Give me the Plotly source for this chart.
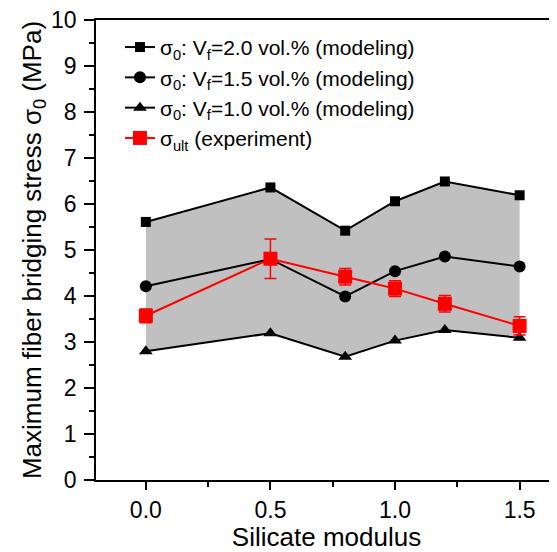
import plotly.graph_objects as go

x_vals = [0.0, 0.5, 0.8, 1.0, 1.2, 1.5]
vf20 = [5.61, 6.36, 5.42, 6.06, 6.49, 6.19]
vf15 = [4.21, 4.80, 3.99, 4.54, 4.86, 4.64]
vf10 = [2.80, 3.19, 2.68, 3.03, 3.26, 3.09]
exp_vals = [3.57, 4.81, 4.42, 4.16, 3.83, 3.35]
exp_err = [0.15, 0.43, 0.18, 0.17, 0.18, 0.20]

names = [
    "σ<sub>0</sub>: V<sub>f</sub>=2.0 vol.% (modeling)",
    "σ<sub>0</sub>: V<sub>f</sub>=1.5 vol.% (modeling)",
    "σ<sub>0</sub>: V<sub>f</sub>=1.0 vol.% (modeling)",
    "σ<sub>ult</sub> (experiment)",
]

fig = go.Figure()
# gray band between Vf=1.0 and Vf=2.0
fig.add_trace(go.Scatter(x=x_vals, y=vf10, mode="lines", line=dict(width=0, color="rgba(0,0,0,0)"),
                         showlegend=False, hoverinfo="skip"))
fig.add_trace(go.Scatter(x=x_vals, y=vf20, mode="lines", line=dict(width=0, color="rgba(0,0,0,0)"),
                         fill="tonexty", fillcolor="#C0C0C0", showlegend=False, hoverinfo="skip"))

fig.add_trace(go.Scatter(x=x_vals, y=vf20, mode="lines+markers", name=names[0],
                         line=dict(color="black", width=2),
                         marker=dict(symbol="square", size=10, color="black")))
fig.add_trace(go.Scatter(x=x_vals, y=vf15, mode="lines+markers", name=names[1],
                         line=dict(color="black", width=2),
                         marker=dict(symbol="circle", size=12, color="black")))
fig.add_trace(go.Scatter(x=x_vals, y=vf10, mode="lines+markers", name=names[2],
                         line=dict(color="black", width=2),
                         marker=dict(symbol="triangle-up", size=12, color="black")))
fig.add_trace(go.Scatter(x=x_vals, y=exp_vals, mode="lines+markers", name=names[3],
                         line=dict(color="red", width=2),
                         marker=dict(symbol="square", size=14, color="red"),
                         error_y=dict(type="data", array=exp_err, color="red", thickness=1.5, width=6)))

# page body has an 8px default margin: figure is 549x544 placed at (8,8)
fig.update_layout(
    width=549, height=544,
    margin=dict(l=88, r=0, t=12, b=72),
    paper_bgcolor="white", plot_bgcolor="white",
    font=dict(family="Liberation Sans, Arial, sans-serif", color="black"),
    legend=dict(x=0.052, y=0.985, xanchor="left", yanchor="top", traceorder="normal",
                font=dict(size=21), bgcolor="rgba(0,0,0,0)"),
    xaxis=dict(range=[-0.2, 1.65], tickvals=[0, 0.5, 1.0, 1.5],
               ticktext=["0.0", "0.5", "1.0", "1.5"],
               ticks="outside", ticklen=8, tickwidth=1.5, tickcolor="black",
               minor=dict(tickvals=[0.25, 0.75, 1.25], ticks="outside", ticklen=5, tickwidth=1.5, tickcolor="black"),
               showline=True, linecolor="black", linewidth=1.5, mirror=True,
               showgrid=False, zeroline=False, automargin=False,
               ticklabeloverflow="allow", ticklabelstandoff=1,
               tickfont=dict(size=23),
               title=dict(text="Silicate modulus", font=dict(size=26), standoff=0)),
    yaxis=dict(range=[0, 10], tickvals=list(range(0, 11)),
               ticks="outside", ticklen=10, tickwidth=1.5, tickcolor="black",
               minor=dict(dtick=0.5, ticks="outside", ticklen=5, tickwidth=1.5, tickcolor="black"),
               showline=True, linecolor="black", linewidth=1.5, mirror=False,
               showgrid=False, zeroline=False, automargin=False,
               ticklabelstandoff=3, ticklabeloverflow="allow",
               tickfont=dict(size=23),
               title=dict(text="Maximum fiber bridging stress σ<sub>0</sub> (MPa)", font=dict(size=26), standoff=2)),
)

fig.write_html("out.html")
